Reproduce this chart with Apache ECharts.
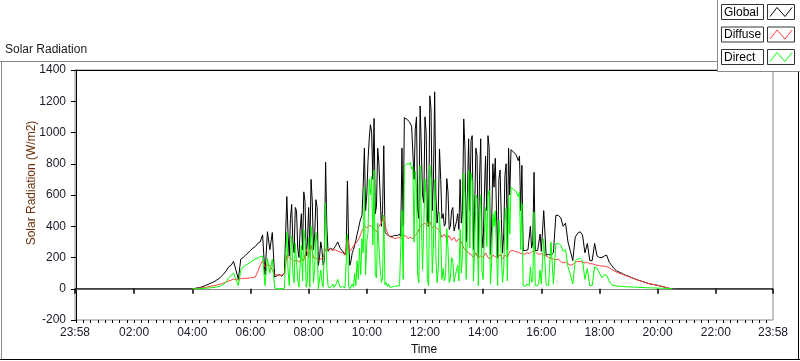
<!DOCTYPE html>
<html>
<head>
<meta charset="utf-8">
<script src="https://cdn.jsdelivr.net/npm/echarts@6/dist/echarts.min.js"></script>
<style>html,body{margin:0;padding:0;background:#fff}#c{width:800px;height:361px}</style>
</head>
<body>
<div id="c"></div>
<script>
// sampling grid (minutes after midnight)
const START_MIN = 240;
const STEP_MIN = 5;
const HALF_FIRST_IDX = 39; // half-step readings start between sample 39 and 40
const AXIS_MIN = -2;   // 23:58 previous day
const AXIS_MAX = 1438; // 23:58
const seriesNames = ['Global', 'Diffuse', 'Direct'];
const yTicks = [-200, 0, 200, 400, 600, 800, 1000, 1200, 1400];
const xMajorTicks = [-2, 120, 240, 360, 480, 600, 720, 840, 960, 1080, 1200, 1320, 1438];

const globalVals = [
0,2,5,8,12,18,25,32,38,45,
55,65,80,95,115,140,150,175,120,60,
190,200,215,230,245,260,270,290,300,345,
90,365,250,360,75,85,90,80,100,590,
210,540,230,500,200,480,620,210,520,700,
250,570,150,300,150,810,240,260,250,270,
300,260,240,220,690,150,230,280,350,420,
470,900,600,960,1000,1090,530,800,400,915,
365,350,340,330,340,345,335,400,1100,1090,
1080,1050,1020,500,1170,600,1100,450,1235,500,
1260,420,895,450,400,705,380,500,370,430,
380,420,1087,300,960,950,250,900,200,960,
260,850,980,220,800,835,200,760,230,725,
250,600,895,880,870,850,790,240,250,240,
260,745,240,250,240,500,215,220,215,230,
470,470,455,400,420,300,240,180,330,355,
365,345,230,290,180,180,290,210,200,200,
210,215,170,150,130,115,108,100,92,85,
80,73,67,60,55,50,45,40,35,30,
28,25,22,18,14,10,5,2,0,0,
0
];
// readings half-way between the 5-minute samples (07:17 .. 16:02)
const globalHalfVals = [
350,450,300,520,260,380,250,560,300,250,
560,350,520,200,250,180,400,250,265,255,
285,280,250,230,260,300,180,250,310,380,
450,650,500,820,1050,700,480,900,600,500,
360,345,335,335,342,340,350,900,1095,1085,
1070,1040,700,1100,450,900,550,1000,400,1150,
700,600,500,700,480,420,620,400,520,400,
480,700,500,900,600,500,980,500,850,700,
350,600,500,900,400,650,500,700,450,350,
800,900,890,875,860,820,500,245,245,250,
400,300,245,245,350
];

const diffuseVals = [
0,1,2,4,6,8,11,14,17,20,
24,28,32,37,42,50,55,62,60,55,
65,66,67,68,70,72,75,110,150,180,
140,150,150,120,90,88,85,88,95,215,
200,190,175,185,170,190,180,255,200,280,
200,195,180,190,200,255,250,255,245,250,
240,235,230,215,330,240,260,285,300,330,
370,400,390,405,400,380,365,400,420,470,
380,340,330,325,320,330,320,335,340,320,
330,320,340,360,400,410,420,400,430,390,
400,385,370,330,350,320,340,310,330,300,
320,300,260,240,230,220,200,230,195,210,
200,230,200,190,215,205,195,220,190,215,
200,240,245,240,235,230,225,220,230,225,
235,245,230,220,225,215,210,200,195,190,
185,190,175,165,170,160,150,155,170,175,
175,170,165,170,160,160,155,150,148,145,
145,140,135,125,115,108,100,95,90,83,
78,72,66,60,55,50,45,40,35,30,
28,25,22,18,14,10,5,2,0
];

const directVals = [
0,0,0,1,2,3,4,5,7,9,
12,15,20,30,45,70,85,100,60,20,
120,140,150,160,170,180,190,195,205,210,
20,195,100,190,5,0,2,0,3,360,
20,340,40,300,10,280,380,10,330,400,
40,360,0,120,10,550,20,10,30,5,
60,10,15,5,350,0,30,100,180,260,
320,650,300,700,720,760,70,420,40,470,
40,30,20,10,15,20,15,60,780,790,
810,780,750,80,790,120,700,60,790,100,
700,40,490,60,50,385,40,200,45,120,
50,100,740,60,760,740,50,600,20,600,
60,520,600,30,480,500,20,450,40,420,
50,350,660,640,630,620,545,20,30,20,
40,490,30,40,30,320,25,20,300,30,
290,290,280,240,250,140,90,30,180,190,
195,180,60,130,20,20,140,130,100,70,
90,85,50,25,20,18,16,15,14,13,
12,11,10,10,9,8,8,7,6,6,
5,5,4,4,3,3,2,1,0
];
const directHalfVals = [
120,220,100,290,60,160,50,300,60,10,
290,130,290,10,45,5,130,5,15,8,
35,35,15,8,5,15,0,10,20,60,
90,230,90,360,600,280,85,420,130,70,
25,15,10,12,15,18,20,500,785,800,
795,765,300,650,40,430,130,580,20,700,
280,200,130,320,130,80,260,70,180,80,
150,380,220,600,340,260,690,260,580,450,
120,350,270,630,170,400,260,440,220,130,
520,590,650,635,625,590,250,20,15,20,
140,55,20,20,120
];

const colors = ['#000000', '#ff4040', '#00ff00'];

function toPairs(vals) { return vals.map((v, i) => [START_MIN + i * STEP_MIN, v]); }
function halfPairs(vals) { return vals.map((v, k) => [START_MIN + (HALF_FIRST_IDX + k + 0.5) * STEP_MIN, v]); }
function byTime(a, b) { return a[0] - b[0]; }
const globalData = [[AXIS_MIN, 0]].concat(toPairs(globalVals), halfPairs(globalHalfVals), [[AXIS_MAX, 0]]).sort(byTime);
const diffuseData = toPairs(diffuseVals);
const directData = toPairs(directVals).concat(halfPairs(directHalfVals)).sort(byTime);

const minorTicks = [];
for (let m = 0; m < AXIS_MAX; m += 15) minorTicks.push(m);

function pad(n) { return (n < 10 ? '0' : '') + n; }
function fmtTime(v) {
  if (v <= AXIS_MIN || v >= AXIS_MAX) return '23:58';
  return pad(Math.floor(v / 60)) + ':' + pad(v % 60);
}

const FONT = 'Liberation Sans';
const chart = echarts.init(document.getElementById('c'), null, { renderer: 'canvas' });

const legendGraphics = [];
legendGraphics.push({ type: 'rect', shape: { x: 717.5, y: -1, width: 84, height: 72.5 }, style: { fill: '#ffffff', stroke: '#8a8a8a', lineWidth: 1 }, z: 100 });
seriesNames.forEach((name, k) => {
  const y = 4.5 + k * 22.5;
  legendGraphics.push({ type: 'rect', shape: { x: 721.5, y: y, width: 42, height: 15 }, style: { fill: '#ffffff', stroke: '#333333', lineWidth: 1 }, z: 101 });
  legendGraphics.push({ type: 'text', x: 724, y: y + 8, style: { text: name, font: '12px ' + FONT, fill: '#000000', verticalAlign: 'middle' }, z: 102 });
  legendGraphics.push({ type: 'rect', shape: { x: 767.5, y: y, width: 27, height: 15 }, style: { fill: '#ffffff', stroke: '#333333', lineWidth: 1 }, z: 101 });
  legendGraphics.push({ type: 'polyline', shape: { points: [[770, y + 12], [777, y + 3], [785, y + 12], [792, y + 3]] }, style: { stroke: colors[k], lineWidth: 1, fill: null }, z: 102 });
});

const option = {
  animation: false,
  backgroundColor: '#ffffff',
  textStyle: { fontFamily: FONT },
  grid: { left: 75, right: 27, top: 70, bottom: 38, containLabel: false, show: true, borderColor: '#8a8a8a', borderWidth: 1, backgroundColor: '#ffffff' },
  xAxis: [
    {
      type: 'value', min: AXIS_MIN, max: AXIS_MAX, position: 'bottom',
      axisLine: { show: true, lineStyle: { color: '#8a8a8a', width: 1 } },
      axisTick: { show: true, customValues: xMajorTicks, length: 5, lineStyle: { color: '#000', width: 1.5 } },
      axisLabel: { show: true, customValues: xMajorTicks, formatter: fmtTime, fontSize: 12, color: '#1a1a2a', margin: 7, fontFamily: FONT },
      splitLine: { show: false },
      name: 'Time', nameLocation: 'middle', nameGap: 24, nameTextStyle: { fontSize: 12, color: '#111', fontFamily: FONT }
    },
    {
      type: 'value', min: AXIS_MIN, max: AXIS_MAX, position: 'bottom', offset: 0,
      axisLine: { show: false },
      axisTick: { show: true, customValues: minorTicks, length: 3, lineStyle: { color: '#000', width: 1 } },
      axisLabel: { show: false },
      splitLine: { show: false }
    },
    {
      type: 'value', min: AXIS_MIN, max: AXIS_MAX, position: 'top',
      axisLine: { show: true, lineStyle: { color: '#000', width: 1 } },
      axisTick: { show: false }, axisLabel: { show: false }, splitLine: { show: false }
    }
  ],
  yAxis: {
    type: 'value', min: -200, max: 1400, interval: 200,
    axisLine: { show: true, lineStyle: { color: '#000', width: 1 } },
    axisTick: { show: true, length: 5, lineStyle: { color: '#000' } },
    axisLabel: { fontSize: 12, color: '#1a1a2a', margin: 9, fontFamily: FONT, customValues: yTicks, formatter: v => String(v) },
    splitLine: { show: false }
  },
  series: [
    { name: seriesNames[0], type: 'line', data: globalData, showSymbol: false, symbol: 'none', lineStyle: { color: colors[0], width: 1 }, itemStyle: { color: colors[0] }, z: 2 },
    { name: seriesNames[1], type: 'line', data: diffuseData, showSymbol: false, symbol: 'none', lineStyle: { color: colors[1], width: 1 }, itemStyle: { color: colors[1] }, z: 3 },
    { name: seriesNames[2], type: 'line', data: directData, showSymbol: false, symbol: 'none', lineStyle: { color: colors[2], width: 1 }, itemStyle: { color: colors[2] }, z: 4 }
  ],
  graphic: [
    { type: 'line', shape: { x1: 0, y1: 61.5, x2: 718, y2: 61.5 }, style: { stroke: '#8a8a8a', lineWidth: 1 }, z: 90 },
    { type: 'line', shape: { x1: 1.5, y1: 61.5, x2: 1.5, y2: 360 }, style: { stroke: '#8a8a8a', lineWidth: 1 }, z: 90 },
    { type: 'line', shape: { x1: 0, y1: 359.5, x2: 800, y2: 359.5 }, style: { stroke: '#000', lineWidth: 1 }, z: 90 },
    { type: 'line', shape: { x1: 798.5, y1: 71, x2: 798.5, y2: 360 }, style: { stroke: '#000', lineWidth: 1 }, z: 90 },
    { type: 'text', x: 5, y: 50, style: { text: 'Solar Radiation', font: '12px ' + FONT, fill: '#1a1a1a', verticalAlign: 'middle' }, z: 90 },
    { type: 'text', x: 32, y: 183, rotation: Math.PI / 2, style: { text: 'Solar Radiation (W/m2)', font: '12px ' + FONT, fill: '#6b2d0a', align: 'center', verticalAlign: 'middle' }, z: 90 }
  ].concat(legendGraphics)
};
chart.setOption(option);
</script>
</body>
</html>
